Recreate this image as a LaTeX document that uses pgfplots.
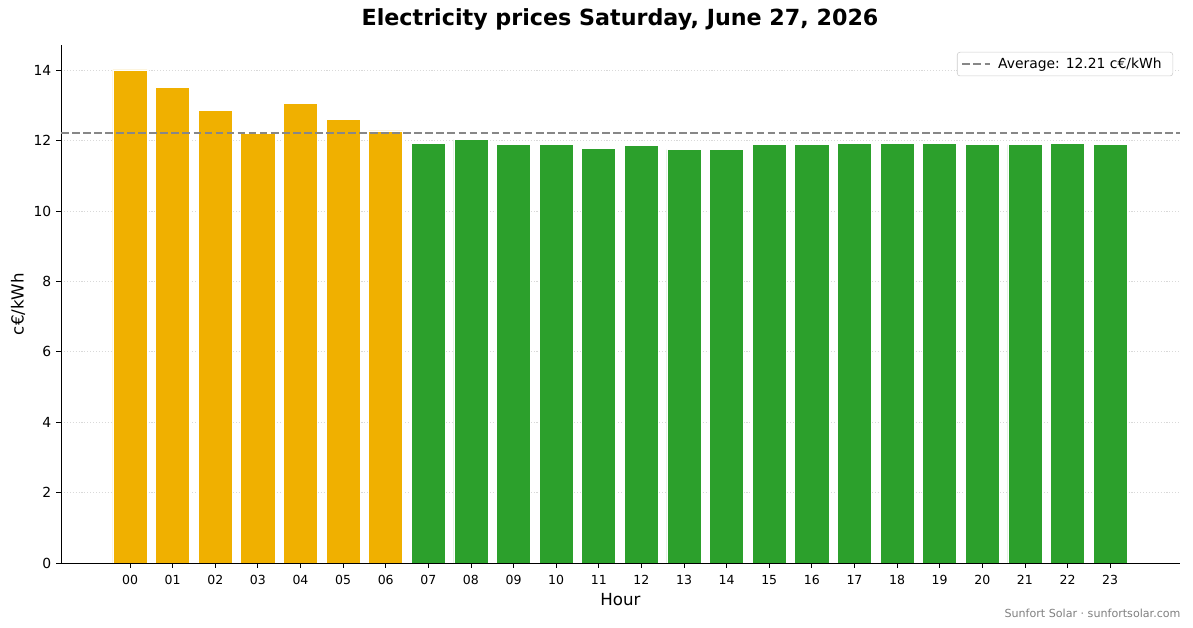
\documentclass[border=0pt]{standalone}
\usepackage{fontspec}
\setmainfont{DejaVu Sans}
\usepackage{pgfplots}
\pgfplotsset{compat=1.18}
\definecolor{peak}{HTML}{F0B000}
\definecolor{offpeak}{HTML}{2CA02C}
\definecolor{avgline}{HTML}{878787}

\begin{document}
\begin{tikzpicture}
% page is 1193 x 628 px at 0.72pt per px
\useasboundingbox (0,0) rectangle (858.96pt,452.16pt);
\node[font=\fontsize{16}{19}\selectfont\bfseries] at (446.4pt,437.8pt)
  {Electricity prices Saturday, June 27, 2026};
\node[anchor=east, font=\fontsize{8}{10}\selectfont, text=black!50] at (853.5pt,10.8pt)
  {Sunfort Solar · sunfortsolar.com};
\begin{axis}[
  at={(43.92pt,46.8pt)}, anchor=south west,
  width=805.7pt, height=372.96pt, scale only axis,
  xmin=-1.62, xmax=24.64, ymin=0, ymax=14.72,
  axis x line*=bottom, axis y line*=left,
  axis line style={line width=0.6pt, -},
  tick align=outside, major tick length=3.5pt,
  tick style={line width=0.6pt, black},
  xtick={0,...,23},
  xticklabels={00,01,02,03,04,05,06,07,08,09,10,11,12,13,14,15,16,17,18,19,20,21,22,23},
  ytick={0,2,...,14},
  /pgf/number format/assume math mode=true,
  xticklabel style={font=\fontsize{9}{11}\selectfont, text height=1.6ex, text depth=0.2ex},
  yticklabel style={font=\fontsize{10}{12}\selectfont},
  ymajorgrids,
  grid style={dash pattern=on 0.8pt off 1.3pt, line width=0.6pt, black!15},
  xlabel={Hour}, ylabel={c€/kWh},
  xlabel style={font=\fontsize{12}{14}\selectfont, at={(axis description cs:0.5,0)}, anchor=center, yshift=-26.6pt},
  ylabel style={font=\fontsize{12}{14}\selectfont, at={(axis description cs:0,0.5)}, anchor=center, yshift=31pt},
  legend style={at={(1,1)}, anchor=north east, xshift=-5pt, yshift=-5pt,
    draw=black!20, rounded corners=2pt, font=\fontsize{10}{12}\selectfont,
    inner xsep=3pt, inner ysep=2pt,
    nodes={inner xsep=5pt}},
  legend image code/.code={\draw[#1] (0pt,0pt) -- (20pt,0pt);},
]
\addplot[ybar, bar width=0.8, bar shift=0pt, fill=peak, draw=white, line width=0.5pt, forget plot]
  coordinates {(0,14.01) (1,13.51) (2,12.85) (3,12.20) (4,13.05) (5,12.60) (6,12.28)};
\addplot[ybar, bar width=0.8, bar shift=0pt, fill=offpeak, draw=white, line width=0.5pt, forget plot]
  coordinates {(7,11.92) (8,12.03) (9,11.90) (10,11.90) (11,11.77) (12,11.87) (13,11.75)
    (14,11.75) (15,11.90) (16,11.89) (17,11.92) (18,11.92) (19,11.92) (20,11.89)
    (21,11.89) (22,11.92) (23,11.89)};
\addplot[avgline, line width=1.5pt, dash pattern=on 5.55pt off 2.4pt]
  coordinates {(-1.62,12.21) (24.64,12.21)};
\addlegendentry{Average: 12.21 c€/kWh}
\end{axis}
\end{tikzpicture}
\end{document}
